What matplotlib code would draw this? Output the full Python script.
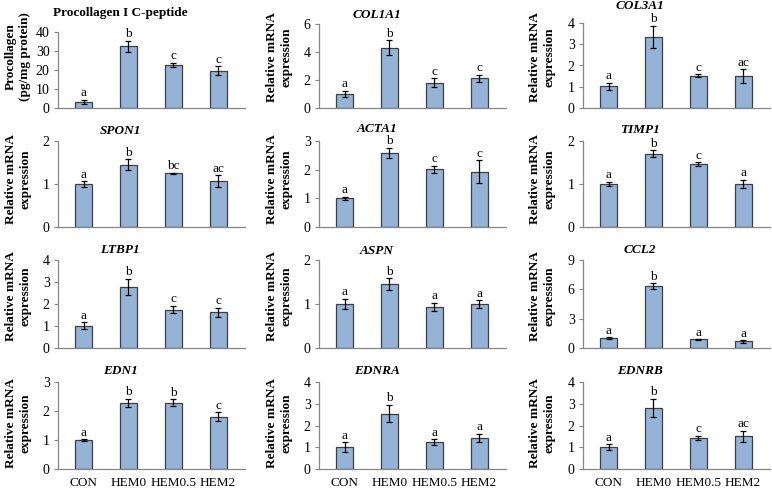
import matplotlib
matplotlib.use("Agg")
import matplotlib.pyplot as plt
import numpy as np

plt.rcParams['font.family'] = ['Liberation Serif', 'DejaVu Serif']

groups = ["CON", "HEM0", "HEM0.5", "HEM2"]

titles = ["Procollagen I C-peptide", "COL1A1", "COL3A1",
          "SPON1", "ACTA1", "TIMP1",
          "LTBP1", "ASPN", "CCL2",
          "EDN1", "EDNRA", "EDNRB"]

procollagen = [3.3, 32.5, 22.8, 19.6]
procollagen_err = [1.0, 2.8, 1.1, 2.4]
col1a1 = [1.0, 4.31, 1.82, 2.11]
col1a1_err = [0.22, 0.53, 0.3, 0.27]
col3a1 = [1.02, 3.34, 1.52, 1.49]
col3a1_err = [0.16, 0.54, 0.06, 0.33]
spon1 = [1.0, 1.45, 1.25, 1.07]
spon1_err = [0.06, 0.13, 0.01, 0.13]
acta1 = [1.0, 2.59, 2.01, 1.92]
acta1_err = [0.05, 0.17, 0.12, 0.4]
timp1 = [1.0, 1.7, 1.46, 1.0]
timp1_err = [0.05, 0.08, 0.05, 0.1]
ltbp1 = [1.01, 2.77, 1.75, 1.63]
ltbp1_err = [0.15, 0.38, 0.18, 0.2]
aspn = [1.0, 1.45, 0.94, 1.0]
aspn_err = [0.12, 0.14, 0.09, 0.09]
ccl2 = [1.01, 6.3, 0.87, 0.67]
ccl2_err = [0.08, 0.3, 0.05, 0.15]
edn1 = [1.0, 2.29, 2.29, 1.81]
edn1_err = [0.03, 0.14, 0.12, 0.15]
ednra = [1.0, 2.55, 1.24, 1.42]
ednra_err = [0.22, 0.4, 0.14, 0.2]
ednrb = [1.0, 2.82, 1.43, 1.51]
ednrb_err = [0.14, 0.42, 0.1, 0.25]

values = [procollagen, col1a1, col3a1, spon1, acta1, timp1,
          ltbp1, aspn, ccl2, edn1, ednra, ednrb]
errors = [procollagen_err, col1a1_err, col3a1_err, spon1_err, acta1_err, timp1_err,
          ltbp1_err, aspn_err, ccl2_err, edn1_err, ednra_err, ednrb_err]

letters = [["a", "b", "c", "c"], ["a", "b", "c", "c"], ["a", "b", "c", "ac"],
           ["a", "b", "bc", "ac"], ["a", "b", "c", "c"], ["a", "b", "c", "a"],
           ["a", "b", "c", "c"], ["a", "b", "a", "a"], ["a", "b", "a", "a"],
           ["a", "b", "b", "c"], ["a", "b", "a", "a"], ["a", "b", "c", "ac"]]

ymax = [40, 6, 4, 2, 3, 2, 4, 2, 9, 3, 4, 4]
ystep = [10, 2, 1, 1, 1, 1, 1, 1, 3, 1, 1, 1]

W, H = 772, 494
fig = plt.figure(figsize=(W / 100, H / 100), dpi=100)

col_left = [58, 319, 583]
col_w = 187
tops = [32, 24, 23, 141, 141, 141, 260, 260, 260, 382, 382, 382]
row_bottom = [108, 227, 348, 469]
title_x = [120, 377, 640]
title_y = [[13, 15, 6], [131, 129, 130], [250, 251, 250], [371, 371, 371]]
ylab_x = [18, 279, 542]
ylab_y = [57, 179, 296, 423]

bar_color = "#95B3D7"
edge_color = "#3F3F3F"
spine_color = "#868686"

x = np.arange(len(groups))
for i in range(12):
    r, c = divmod(i, 3)
    left = col_left[c]
    top = tops[i]
    bottom = row_bottom[r]
    ax = fig.add_axes([left / W, 1 - bottom / H, col_w / W, (bottom - top) / H])
    ax.bar(x, values[i], width=0.38, color=bar_color, edgecolor=edge_color, linewidth=0.9, zorder=2)
    ax.errorbar(x, values[i], yerr=errors[i], fmt="none", ecolor="black",
                elinewidth=0.9, capsize=2.5, capthick=0.9, zorder=3)
    for xi, v, e, lab in zip(x, values[i], errors[i], letters[i]):
        ax.annotate(lab, (xi, v + e), xytext=(0, 2.5), textcoords="offset points",
                    ha="center", va="baseline", fontsize=9.5, annotation_clip=False)
    ax.set_xlim(-0.57, 3.6)
    ax.set_ylim(0, ymax[i])
    ax.set_yticks(np.arange(0, ymax[i] + ystep[i] / 2, ystep[i]))
    ax.tick_params(axis="y", labelsize=10, length=3, width=0.8, color=spine_color, pad=3)
    if r == 3:
        ax.set_xticks(x)
        ax.set_xticklabels(groups, fontsize=9.5)
        ax.tick_params(axis="x", length=0, pad=6)
    else:
        ax.set_xticks([])
    for s in ["top", "right"]:
        ax.spines[s].set_visible(False)
    for s in ["left", "bottom"]:
        ax.spines[s].set_color(spine_color)
        ax.spines[s].set_linewidth(0.9)
    style = "normal" if i == 0 else "italic"
    fig.text(title_x[c] / W, 1 - title_y[r][c] / H, titles[i], ha="center", va="center",
             fontsize=9.5, fontweight="bold", fontstyle=style)
    ylab = "Procollagen\n(pg/mg protein)" if i == 0 else "Relative mRNA\nexpression"
    fig.text(ylab_x[c] / W, 1 - ylab_y[r] / H, ylab, ha="center", va="center",
             rotation=90, fontsize=9.5, fontweight="bold", linespacing=1.3)

fig.savefig("out.png", dpi=100, facecolor="white")
